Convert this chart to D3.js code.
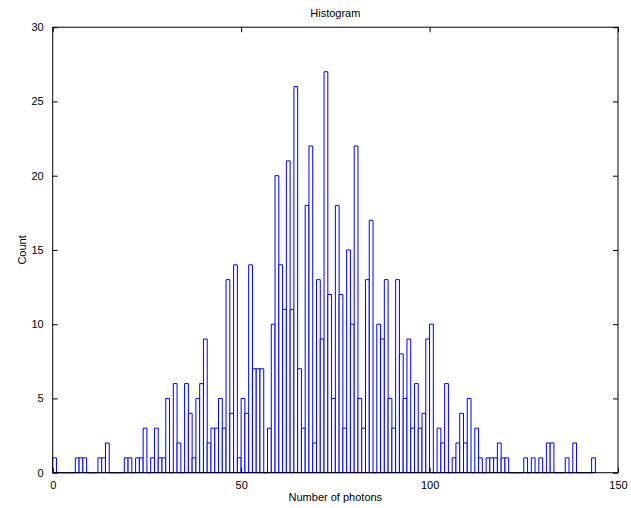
<!DOCTYPE html>
<html>
<head>
<meta charset="utf-8"/>
<title>Histogram</title>
<script src="https://cdn.jsdelivr.net/npm/d3@7"></script>
<style>
  body { margin: 0; background: #fff; }
  svg text { font-family: "Liberation Sans", Arial, Helvetica, sans-serif; font-size: 11px; fill: #000; }
</style>
</head>
<body>
<div id="chart"></div>
<script>
// bin counts, one per unit-wide bin starting at 0
var counts = [
  1, 0, 0, 0, 0, 0, 1, 1, 1, 0,
  0, 0, 1, 1, 2, 0, 0, 0, 0, 1,
  1, 0, 1, 1, 3, 0, 1, 3, 1, 1,
  5, 0, 6, 2, 0, 6, 4, 1, 5, 6,
  9, 2, 3, 3, 5, 3, 13, 4, 14, 1,
  5, 4, 14, 7, 7, 7, 0, 3, 10, 20,
  14, 11, 21, 11, 26, 7, 3, 18, 22, 2,
  13, 9, 27, 12, 5, 18, 12, 3, 15, 10,
  22, 5, 3, 13, 17, 0, 10, 9, 13, 5,
  3, 13, 8, 5, 9, 3, 6, 3, 4, 9,
  10, 0, 3, 2, 6, 0, 1, 2, 4, 2,
  5, 0, 3, 1, 0, 1, 1, 1, 2, 1,
  1, 0, 0, 0, 0, 1, 0, 1, 0, 1,
  0, 2, 2, 0, 0, 0, 1, 0, 2, 0,
  0, 0, 0, 1
];
var binStart = 0, binWidth = 1;
var xTicks = [0, 50, 100, 150];
var yTicks = [0, 5, 10, 15, 20, 25, 30];

var width = 631, height = 508;
// plot box edges (note: "top" is a reserved window global, so keep these in an object)
var box = { x0: 52.7, x1: 618, y0: 27.2, y1: 472.7 };

var svg = d3.select("#chart").append("svg")
  .attr("width", width).attr("height", height);

var x = d3.scaleLinear().domain([0, 150]).range([box.x0, box.x1]);
var y = d3.scaleLinear().domain([0, 30]).range([box.y1, box.y0]);

// bars, drawn as paths so empty bins still leave a line on the baseline
svg.append("g")
  .selectAll("path")
  .data(counts)
  .join("path")
  .attr("d", function(c, i) {
    var xa = x(binStart + i * binWidth), xb = x(binStart + (i + 1) * binWidth);
    return "M" + xa + "," + y(0) + "V" + y(c) + "H" + xb + "V" + y(0) + "Z";
  })
  .attr("fill", "#fff")
  .attr("stroke", "#0000ff")
  .attr("stroke-width", 1);

// box
svg.append("rect")
  .attr("x", box.x0).attr("y", box.y0)
  .attr("width", box.x1 - box.x0).attr("height", box.y1 - box.y0)
  .attr("fill", "none").attr("stroke", "#000").attr("stroke-width", 1);

// inward ticks on all four sides
var tl = 5;
var axisB = d3.axisBottom(x).tickValues(xTicks).tickSize(-tl).tickPadding(9);
var axisT = d3.axisTop(x).tickValues(xTicks).tickSize(-tl).tickFormat("");
var axisL = d3.axisLeft(y).tickValues(yTicks).tickSize(-tl).tickPadding(9);
var axisR = d3.axisRight(y).tickValues(yTicks).tickSize(-tl).tickFormat("");

function styleAxis(g) {
  g.select(".domain").remove();
  g.selectAll("line").attr("stroke", "#000");
  g.selectAll("text").attr("font-size", 11).attr("font-family", null);
}
svg.append("g").attr("transform", "translate(0," + box.y1 + ")").call(axisB).call(styleAxis);
svg.append("g").attr("transform", "translate(0," + box.y0 + ")").call(axisT).call(styleAxis);
svg.append("g").attr("transform", "translate(" + box.x0 + ",0)").call(axisL).call(styleAxis);
svg.append("g").attr("transform", "translate(" + box.x1 + ",0)").call(axisR).call(styleAxis);

// titles
svg.append("text")
  .attr("x", (box.x0 + box.x1) / 2).attr("y", 17)
  .attr("text-anchor", "middle")
  .text("Histogram");

svg.append("text")
  .attr("x", (box.x0 + box.x1) / 2).attr("y", 501)
  .attr("text-anchor", "middle")
  .text("Number of photons");

svg.append("text")
  .attr("transform", "translate(26," + (box.y0 + box.y1) / 2 + ") rotate(-90)")
  .attr("text-anchor", "middle")
  .text("Count");
</script>
</body>
</html>
